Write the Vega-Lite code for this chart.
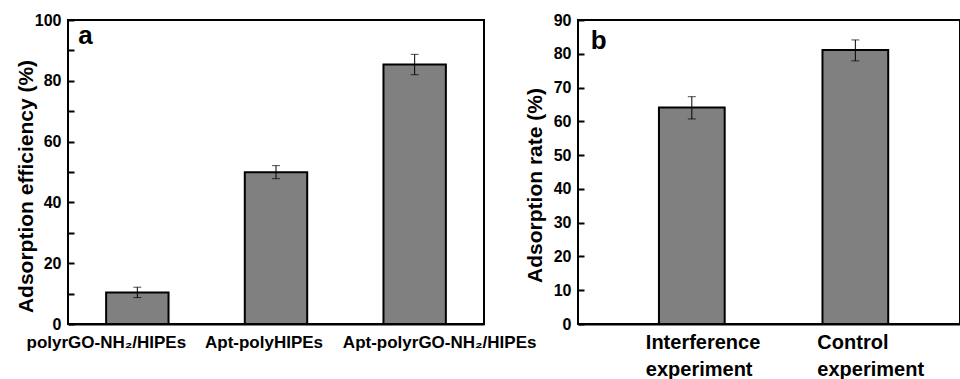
{
  "$schema": "https://vega.github.io/schema/vega-lite/v6.json",
  "background": "white",
  "padding": {"left": 14, "top": 11, "right": 0, "bottom": 0},
  "bounds": "flush",
  "spacing": 94,
  "config": {
    "font": "Liberation Sans",
    "view": {"stroke": "black", "strokeWidth": 2},
    "axis": {
      "domainColor": "black",
      "domainWidth": 2,
      "ticks": true,
      "tickColor": "black",
      "tickWidth": 2,
      "tickOpacity": 1,
      "labelColor": "black",
      "labelFontWeight": "bold",
      "labelFont": "Liberation Sans",
      "titleFont": "Liberation Sans",
      "titleFontWeight": "bold",
      "titleColor": "black",
      "grid": false,
      "labelOverlap": false,
      "labelLimit": 400,
      "zindex": 2
    }
  },
  "hconcat": [
    {
      "width": 416,
      "height": 304,
      "data": {
        "values": [
          {"sample": "polyrGO-NH₂/HIPEs", "value": 10.4, "low": 8.7, "high": 12.1},
          {"sample": "Apt-polyHIPEs", "value": 49.9, "low": 47.8, "high": 52.1},
          {"sample": "Apt-polyrGO-NH₂/HIPEs", "value": 85.4, "low": 82.0, "high": 88.7}
        ]
      },
      "encoding": {
        "x": {
          "field": "sample",
          "type": "nominal",
          "sort": null,
          "scale": {"paddingInner": 0.55, "paddingOuter": 0.275},
          "axis": {
            "title": null, "labelAngle": 0, "ticks": false, "labelFontSize": 17, "labelPadding": 10,
            "labelOffset": {"condition": [{"test": "datum.value == 'Apt-polyHIPEs'", "value": -12}, {"test": "datum.value == 'Apt-polyrGO-NH₂/HIPEs'", "value": 25}], "value": -31}
          }
        }
      },
      "layer": [
        {
          "mark": {"type": "bar", "fill": "#808080", "stroke": "black", "strokeWidth": 2},
          "encoding": {
            "y": {
              "field": "value",
              "type": "quantitative",
              "scale": {"domain": [0, 100]},
              "axis": {
                "title": "Adsorption efficiency (%)",
                "values": [0, 10, 20, 30, 40, 50, 60, 70, 80, 90, 100],
                "labelExpr": "datum.value % 20 === 0 ? datum.label : ''",
                "domain": false,
                "offset": -6,
                "ticks": true,
                "tickSize": 6,
                "labelPadding": 7,
                "labelFontSize": 16,
                "titleFontSize": 21,
                "titleX": -42,
                "titleY": 166,
                "titleAlign": "center",
                "titleBaseline": "alphabetic",
                "titleAngle": -90
              }
            }
          }
        },
        {
          "mark": {"type": "errorbar", "ticks": {"size": 8, "color": "black", "strokeWidth": 1.5}, "color": "black", "strokeWidth": 1.5},
          "encoding": {
            "y": {
              "field": "low",
              "type": "quantitative",
              "axis": {
                "title": "Adsorption efficiency (%)",
                "values": [0, 10, 20, 30, 40, 50, 60, 70, 80, 90, 100],
                "labelExpr": "datum.value % 20 === 0 ? datum.label : ''",
                "domain": false,
                "offset": -6,
                "ticks": true,
                "tickSize": 6,
                "labelPadding": 7,
                "labelFontSize": 16,
                "titleFontSize": 21,
                "titleX": -42,
                "titleY": 166,
                "titleAlign": "center",
                "titleBaseline": "alphabetic",
                "titleAngle": -90
              }
            },
            "y2": {"field": "high"}
          }
        },
        {
          "data": {"values": [{"letter": "a"}]},
          "mark": {"type": "text", "fontSize": 26, "fontWeight": "bold", "font": "Liberation Sans", "color": "black", "align": "left", "baseline": "alphabetic", "dx": -59, "dy": 24},
          "encoding": {
            "x": {"datum": "polyrGO-NH₂/HIPEs", "type": "nominal"},
            "y": {
              "datum": 100,
              "type": "quantitative",
              "axis": {
                "title": "Adsorption efficiency (%)",
                "values": [0, 10, 20, 30, 40, 50, 60, 70, 80, 90, 100],
                "labelExpr": "datum.value % 20 === 0 ? datum.label : ''",
                "domain": false,
                "offset": -6,
                "ticks": true,
                "tickSize": 6,
                "labelPadding": 7,
                "labelFontSize": 16,
                "titleFontSize": 21,
                "titleX": -42,
                "titleY": 166,
                "titleAlign": "center",
                "titleBaseline": "alphabetic",
                "titleAngle": -90
              }
            },
            "text": {"field": "letter", "type": "nominal"}
          }
        }
      ]
    },
    {
      "width": 382,
      "height": 304,
      "data": {
        "values": [
          {"sample": "Interference experiment", "value": 64.1, "low": 60.7, "high": 67.3},
          {"sample": "Control experiment", "value": 81.1, "low": 77.9, "high": 84.1}
        ]
      },
      "encoding": {
        "x": {
          "field": "sample",
          "type": "nominal",
          "sort": null,
          "scale": {"paddingInner": 0.598, "paddingOuter": 0.467, "align": 0.53},
          "axis": {
            "title": null, "labelAngle": 0, "ticks": false, "labelFontSize": 20, "labelLineHeight": 27, "labelPadding": 8,
            "labelAlign": "left",
            "labelExpr": "split(datum.label, ' ')",
            "labelOffset": {"condition": {"test": "datum.value == 'Interference experiment'", "value": -46}, "value": -38}
          }
        }
      },
      "layer": [
        {
          "mark": {"type": "bar", "fill": "#808080", "stroke": "black", "strokeWidth": 2},
          "encoding": {
            "y": {
              "field": "value",
              "type": "quantitative",
              "scale": {"domain": [0, 90]},
              "axis": {
                "title": "Adsorption rate (%)",
                "values": [0, 10, 20, 30, 40, 50, 60, 70, 80, 90],
                "domain": false,
                "offset": -6,
                "ticks": true,
                "tickSize": 6,
                "labelPadding": 7,
                "labelFontSize": 16,
                "titleFontSize": 21,
                "titleX": -43,
                "titleY": 165,
                "titleAlign": "center",
                "titleBaseline": "alphabetic",
                "titleAngle": -90
              }
            }
          }
        },
        {
          "mark": {"type": "errorbar", "ticks": {"size": 8, "color": "black", "strokeWidth": 1.5}, "color": "black", "strokeWidth": 1.5},
          "encoding": {
            "y": {
              "field": "low",
              "type": "quantitative",
              "axis": {
                "title": "Adsorption rate (%)",
                "values": [0, 10, 20, 30, 40, 50, 60, 70, 80, 90],
                "domain": false,
                "offset": -6,
                "ticks": true,
                "tickSize": 6,
                "labelPadding": 7,
                "labelFontSize": 16,
                "titleFontSize": 21,
                "titleX": -43,
                "titleY": 165,
                "titleAlign": "center",
                "titleBaseline": "alphabetic",
                "titleAngle": -90
              }
            },
            "y2": {"field": "high"}
          }
        },
        {
          "data": {"values": [{"letter": "b"}]},
          "mark": {"type": "text", "fontSize": 26, "fontWeight": "bold", "font": "Liberation Sans", "color": "black", "align": "left", "baseline": "alphabetic", "dx": -101, "dy": 29},
          "encoding": {
            "x": {"datum": "Interference experiment", "type": "nominal"},
            "y": {
              "datum": 90,
              "type": "quantitative",
              "axis": {
                "title": "Adsorption rate (%)",
                "values": [0, 10, 20, 30, 40, 50, 60, 70, 80, 90],
                "domain": false,
                "offset": -6,
                "ticks": true,
                "tickSize": 6,
                "labelPadding": 7,
                "labelFontSize": 16,
                "titleFontSize": 21,
                "titleX": -43,
                "titleY": 165,
                "titleAlign": "center",
                "titleBaseline": "alphabetic",
                "titleAngle": -90
              }
            },
            "text": {"field": "letter", "type": "nominal"}
          }
        }
      ]
    }
  ]
}
